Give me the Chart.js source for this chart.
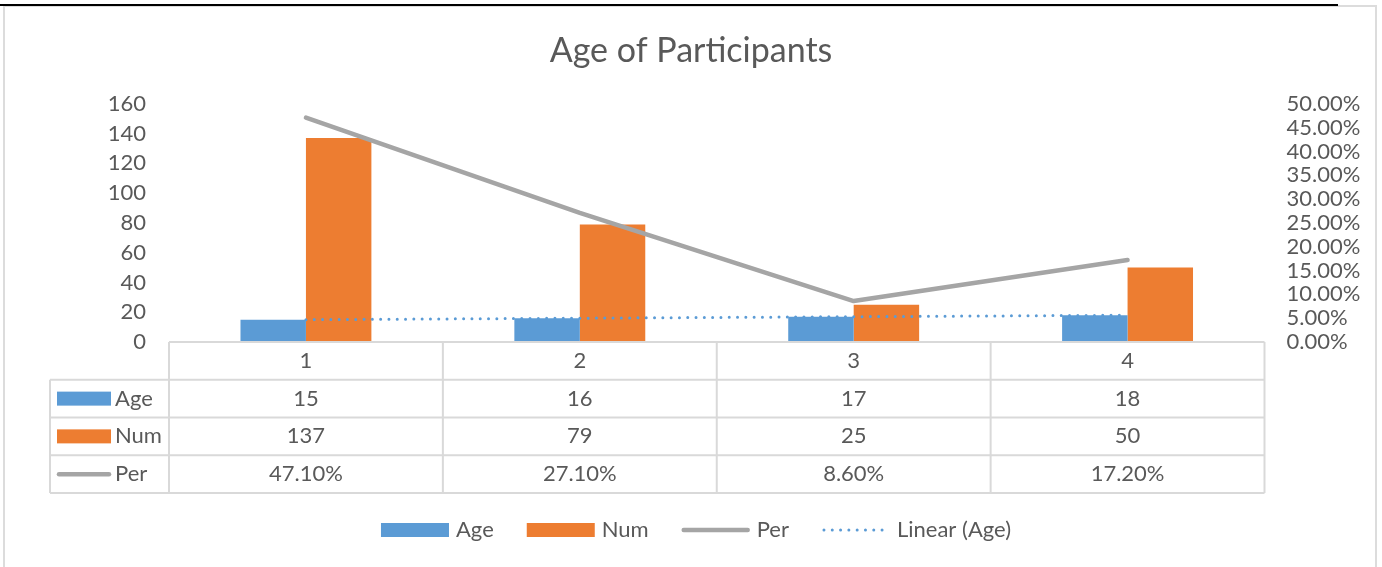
<!DOCTYPE html>
<html>
<head>
<meta charset="utf-8">
<title>Age of Participants</title>
<script src="https://cdn.jsdelivr.net/npm/chart.js@4.4.1/dist/chart.umd.min.js"></script>
<style>
  html, body { margin: 0; padding: 0; background: #fff; }
  #wrap { position: relative; width: 1382px; height: 567px; }
</style>
</head>
<body>
<div id="wrap"><canvas id="age_chart" width="1382" height="567"></canvas></div>
<script>
// data
const categories = ["1", "2", "3", "4"];
const age = [15, 16, 17, 18];
const num = [137, 79, 25, 50];
const per = [47.1, 27.1, 8.6, 17.2];        // percent
const linear_age = [15, 16, 17, 18];        // "Linear (Age)" trendline
const left_max = 160, left_step = 20;
const right_max = 50, right_step = 5;

const FONT = "Lato, 'Open Sans', sans-serif";
const TEXT = "#595959";
const BLUE = "#5b9bd5";
const ORANGE = "#ed7d31";
const GRAY = "#a5a5a5";
const RULE = "#d9d9d9";
const FONT_SIZE = 22;

const fmt_pct = (v) => v.toFixed(2) + "%";

const table_rows = [
  { name: "Age", values: age, key: "bar", color: BLUE, fmt: String },
  { name: "Num", values: num, key: "bar", color: ORANGE, fmt: String },
  { name: "Per", values: per, key: "line", color: GRAY, fmt: fmt_pct },
];

const legend_items = [
  { name: "Age", key: "bar", color: BLUE },
  { name: "Num", key: "bar", color: ORANGE },
  { name: "Per", key: "line", color: GRAY },
  { name: "Linear (Age)", key: "dots", color: BLUE },
];

function draw_key(ctx, kind, color, x0, x1, cy, bar_h) {
  ctx.save();
  if (kind === "bar") {
    ctx.fillStyle = color;
    ctx.fillRect(x0, cy - bar_h / 2, x1 - x0, bar_h);
  } else {
    ctx.strokeStyle = color;
    ctx.lineCap = "round";
    if (kind === "dots") {
      ctx.lineWidth = 3;
      ctx.setLineDash([0, 8.3]);
    } else {
      ctx.lineWidth = 4.5;
    }
    ctx.beginPath();
    ctx.moveTo(x0 + 2, cy);
    ctx.lineTo(x1 - 2, cy);
    ctx.stroke();
  }
  ctx.restore();
}

const frame_plugin = {
  id: "frame",
  beforeDraw(chart) {
    const ctx = chart.ctx;
    ctx.save();
    ctx.fillStyle = "#fff";
    ctx.fillRect(0, 0, chart.width, chart.height);
    ctx.strokeStyle = "#dcdcdc";
    ctx.lineWidth = 2;
    ctx.beginPath();
    ctx.moveTo(4, chart.height);
    ctx.lineTo(4, 6);
    ctx.lineTo(1376, 6);
    ctx.lineTo(1376, chart.height);
    ctx.stroke();
    ctx.strokeStyle = "#000";
    ctx.beginPath();
    ctx.moveTo(0, 5);
    ctx.lineTo(1338, 5);
    ctx.stroke();
    ctx.restore();
  },
};

const table_plugin = {
  id: "data_table",
  afterDraw(chart) {
    const ctx = chart.ctx;
    const x = chart.scales.x;
    const n = categories.length;
    const col_w = (x.right - x.left) / n;
    const top = chart.chartArea.bottom;
    const row_h = 37.75;
    const key_left = 50;
    const bottom = top + row_h * (table_rows.length + 1);

    ctx.save();
    ctx.strokeStyle = RULE;
    ctx.lineWidth = 2;
    ctx.beginPath();
    ctx.moveTo(x.left, top);
    ctx.lineTo(x.right, top);
    for (let r = 1; r <= table_rows.length + 1; r++) {
      ctx.moveTo(key_left, top + r * row_h);
      ctx.lineTo(x.right, top + r * row_h);
    }
    for (let c = 0; c <= n; c++) {
      ctx.moveTo(x.left + c * col_w, top);
      ctx.lineTo(x.left + c * col_w, bottom);
    }
    ctx.moveTo(key_left, top + row_h);
    ctx.lineTo(key_left, bottom);
    ctx.stroke();

    ctx.fillStyle = TEXT;
    ctx.font = FONT_SIZE + "px " + FONT;
    ctx.textBaseline = "middle";
    ctx.textAlign = "center";
    categories.forEach((c, i) => {
      ctx.fillText(c, x.getPixelForValue(i), top + row_h / 2);
    });
    table_rows.forEach((row, r) => {
      const cy = top + (r + 1.5) * row_h;
      ctx.textAlign = "center";
      ctx.fillStyle = TEXT;
      row.values.forEach((v, i) => {
        ctx.fillText(row.fmt(v), x.getPixelForValue(i), cy);
      });
      draw_key(ctx, row.key, row.color, 57, 111, cy, 14);
      ctx.textAlign = "left";
      ctx.fillStyle = TEXT;
      ctx.fillText(row.name, 115, cy);
    });

    // legend under the table
    const key_w = 68, gap_text = 7, gap_item = 33, cy = 530;
    const widths = legend_items.map((it) => ctx.measureText(it.name).width);
    const total = widths.reduce((s, w) => s + key_w + gap_text + w, 0) + gap_item * (legend_items.length - 1);
    let lx = 696 - total / 2;
    legend_items.forEach((it, i) => {
      draw_key(ctx, it.key, it.color, lx, lx + key_w, cy, 14);
      ctx.fillStyle = TEXT;
      ctx.textAlign = "left";
      ctx.fillText(it.name, lx + key_w + gap_text, cy);
      lx += key_w + gap_text + widths[i] + gap_item;
    });
    ctx.restore();
  },
};

const tick_font = { family: FONT, size: FONT_SIZE };

new Chart(document.getElementById("age_chart"), {
  type: "bar",
  data: {
    labels: categories,
    datasets: [
      {
        type: "line",
        label: "Linear (Age)",
        data: linear_age,
        borderColor: BLUE,
        borderWidth: 3,
        borderDash: [0, 8.3],
        borderCapStyle: "round",
        pointRadius: 0,
        tension: 0,
        fill: false,
        yAxisID: "y",
        order: 0,
      },
      {
        type: "line",
        label: "Per",
        data: per,
        borderColor: GRAY,
        borderWidth: 4.5,
        borderCapStyle: "round",
        borderJoinStyle: "round",
        pointRadius: 0,
        tension: 0,
        fill: false,
        yAxisID: "y1",
        order: 1,
      },
      {
        label: "Age",
        data: age,
        backgroundColor: BLUE,
        yAxisID: "y",
        order: 2,
      },
      {
        label: "Num",
        data: num,
        backgroundColor: ORANGE,
        yAxisID: "y",
        order: 3,
      },
    ],
  },
  options: {
    responsive: false,
    animation: false,
    events: [],
    layout: { padding: { left: 0, right: 0, top: 0, bottom: 225 } },
    datasets: { bar: { categoryPercentage: 0.478, barPercentage: 1 } },
    plugins: {
      legend: { display: false },
      tooltip: { enabled: false },
      title: {
        display: true,
        text: "Age of Participants",
        color: TEXT,
        font: { family: FONT, size: 34, weight: "normal" },
        padding: { top: 31, bottom: 32 },
      },
    },
    scales: {
      x: { display: false, offset: true },
      y: {
        position: "left",
        min: 0,
        max: left_max,
        ticks: { stepSize: left_step, color: TEXT, font: tick_font, padding: 23, autoSkip: false },
        grid: { display: false, drawTicks: false },
        border: { display: false },
        afterFit(s) { s.width = 169; },
      },
      y1: {
        position: "right",
        min: 0,
        max: right_max,
        ticks: { stepSize: right_step, color: TEXT, font: tick_font, padding: 22, autoSkip: false, callback: (v) => fmt_pct(v) },
        grid: { display: false, drawTicks: false },
        border: { display: false },
        afterFit(s) { s.width = 117.5; },
      },
    },
  },
  plugins: [frame_plugin, table_plugin],
});
</script>
</body>
</html>
